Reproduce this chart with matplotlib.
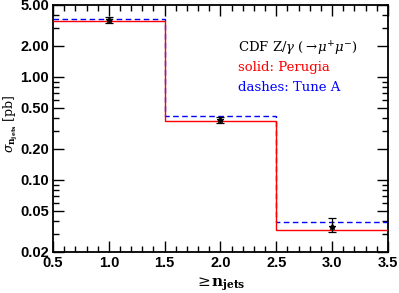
import numpy as np
import matplotlib
matplotlib.use('Agg')
import matplotlib.pyplot as plt
from matplotlib.ticker import FixedLocator, LogLocator, NullFormatter, MultipleLocator

#========================= Data ===============================================
bin_edges = [0.5, 1.5, 2.5, 3.5]
perugia = [3.46, 0.37, 0.033]
tune_a = [3.67, 0.418, 0.0387]
data_x = [1.0, 2.0, 3.0]
data_y = [3.59, 0.38, 0.035]
data_err_lo = [0.25, 0.025, 0.004]
data_err_hi = [0.25, 0.025, 0.0075]
y_ticks = [0.02, 0.05, 0.10, 0.20, 0.50, 1.00, 2.00, 5.00]
y_labels = ['0.02', '0.05', '0.10', '0.20', '0.50', '1.00', '2.00', '5.00']

#========================= Plot ===============================================
plt.rcParams['mathtext.fontset'] = 'dejavuserif'
fig = plt.figure(figsize=(3.99, 2.93), dpi=100)
ax = fig.add_axes([0.133, 0.140, 0.839, 0.843])

# blue first so the red verticals sit on top
ax.stairs(tune_a, bin_edges, color='blue', lw=1.0, ls=(0, (4, 2.5)), baseline=None, zorder=2)
ax.stairs(perugia, bin_edges, color='red', lw=1.0, baseline=None, zorder=3)
ax.errorbar(data_x, data_y, yerr=[data_err_lo, data_err_hi], fmt='*', color='black',
            ms=4, capsize=3, elinewidth=0.9, capthick=0.9, zorder=4)

ax.set_yscale('log')
ax.set_xlim(0.5, 3.5)
ax.set_ylim(0.02, 5.0)
ax.yaxis.set_major_locator(FixedLocator(y_ticks))
ax.set_yticklabels(y_labels)
ax.yaxis.set_minor_locator(LogLocator(base=10, subs=np.arange(1, 10)))
ax.yaxis.set_minor_formatter(NullFormatter())
ax.xaxis.set_major_locator(MultipleLocator(0.5))
ax.xaxis.set_minor_locator(MultipleLocator(0.1))

ax.tick_params(which='both', direction='in', top=True, right=True, width=1.0)
ax.tick_params(which='major', length=8, labelsize=10.5, pad=3)
ax.tick_params(which='minor', length=4)
for lab in ax.get_xticklabels() + ax.get_yticklabels():
    lab.set_fontweight('bold')
    lab.set_family('Liberation Sans')
for s in ax.spines.values():
    s.set_linewidth(1.3)

ax.set_ylabel(r'$\sigma_{\mathbf{n_{jets}}}$ [pb]', family='DejaVu Serif', fontsize=9)
ax.yaxis.set_label_coords(-0.098, 0.52)
ax.set_xlabel(r'$\geq\!\mathbf{n_{jets}}$', fontsize=11)

ax.text(0.552, 0.822, r'CDF Z/$\gamma$ ($\rightarrow\!\mu^{+}\mu^{-}$)', transform=ax.transAxes,
        family='DejaVu Serif', fontsize=9.5, color='black', va='center')
ax.text(0.552, 0.745, 'solid: Perugia', transform=ax.transAxes,
        family='DejaVu Serif', fontsize=9.5, color='red', va='center')
ax.text(0.552, 0.664, 'dashes: Tune A', transform=ax.transAxes,
        family='DejaVu Serif', fontsize=9.5, color='blue', va='center')

fig.savefig('out.png', dpi=100)
